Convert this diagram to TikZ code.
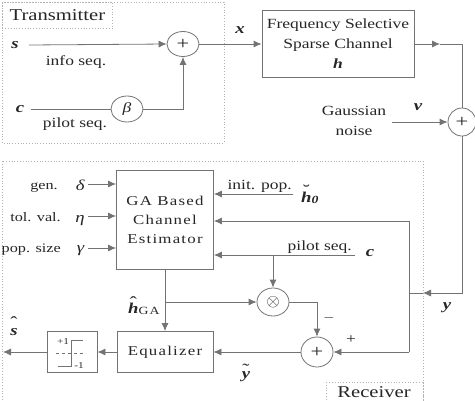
\documentclass[tikz,border=0pt]{standalone}
\usepackage{amsmath}
\usepackage{fontspec}
\setmainfont{Liberation Serif}[FakeStretch=1.25]
\newfontfamily\spacedfont{Liberation Serif}[FakeStretch=1.25,LetterSpace=9]
\usetikzlibrary{positioning,calc,shapes.geometric,arrows.meta}
\newcommand{\bv}[1]{\textbf{\textit{#1}}}
% letter with an accent set above it
\newcommand{\accbv}[3]{\leavevmode\vbox{\offinterlineskip\halign{\hfil##\hfil\cr
  \fontsize{17}{17}\selectfont #1\cr\noalign{\kern#3}\bv{#2}\cr}}}
\tikzset{
  wire/.style={draw=black!55,line width=0.8pt},
  arr/.style={wire,-{Latex[length=8pt,width=7pt]}},
  blockbox/.style={draw=black!55,line width=0.8pt,inner sep=0pt},
  sumnode/.style={ellipse,draw=black!55,line width=0.8pt,inner sep=0pt,font=\fontsize{18}{18}\selectfont},
  areabox/.style={draw=black!30,dotted,line width=0.8pt},
  lbl/.style={inner sep=0pt,font=\fontsize{14}{20}\selectfont},
  smalllbl/.style={inner sep=0pt,font=\fontsize{13}{14}\selectfont},
  sym/.style={inner sep=0pt,font=\fontsize{15}{17}\selectfont},
  every node/.style={text=black!85},
}
\begin{document}
\begin{tikzpicture}[x=1pt,y=-1pt]
  \useasboundingbox (0,0) rectangle (475,400);
  \clip (0,0) rectangle (475,400);
  % transmitter
  \draw[areabox] (2,2) rectangle (224,143);
  \node[areabox,anchor=north west,minimum width=110pt,minimum height=26pt,inner sep=0pt,font=\fontsize{16.5}{18}\selectfont] (txlabel) at (2,2) {Transmitter};
  \node[sym] (s) at (15,45) {\bv{s}};
  \node[sumnode,minimum width=32pt,minimum height=25pt] (sumtx) at (183,44) {+};
  \node[lbl] (info) at (76,62) {info seq.};
  \node[sym] (ctx) at (20,109) {\bv{c}};
  \node[sumnode,minimum width=32pt,minimum height=26pt,font=\fontsize{14}{14}\selectfont] (beta) at (127,109) {\textit{β}};
  \node[lbl] (pilottx) at (75,124) {pilot seq.};
  \draw[arr] ([xshift=10pt]s.east) -- (sumtx.west);
  \draw[wire] ([xshift=7pt]ctx.east) -- (beta.west);
  \draw[arr] (beta.east) -| (sumtx.south);
  % channel and noise
  \node[sym] (xl) at (240,30) {\bv{x}};
  \node[blockbox,minimum width=152pt,minimum height=67pt,align=center,font=\fontsize{14}{20}\selectfont] (chan) at (338,44) {Frequency Selective\\Sparse Channel\\\bv{h}};
  \draw[arr] (sumtx.east) -- (chan.west);
  \node[sumnode,minimum width=28pt,minimum height=28pt] (sumrx) at (462,122) {+};
  \coordinate (chout) at (440,44);
  \draw[arr] (chan.east) -- (chout);
  \draw[wire] (chout) -| (sumrx.north);
  \node[lbl,align=center] (noise) at (354,121) {Gaussian\\noise};
  \node[sym] (v) at (418,107) {\bv{v}};
  \coordinate (vin) at (392,122);
  \draw[arr] (vin) -- (sumrx.west);
  % receiver
  \draw[areabox] (2,161) rectangle (423,420);
  \draw[areabox] (326,382) rectangle (423,420);
  \node[inner sep=0pt,font=\fontsize{16.5}{18}\selectfont] (rxlabel) at (374,392) {Receiver};
  \node[blockbox,minimum width=97pt,minimum height=99pt,align=center,font=\spacedfont\fontsize{13.5}{19}\selectfont] (est) at (165,219.5) {GA Based\\Channel\\Estimator};
  \node[sym,anchor=base east] (delta) at (85,190) {\textit{δ}};
  \node[sym,anchor=base east] (eta) at (85,222) {\textit{η}};
  \node[sym,anchor=base east] (gamma) at (85,252) {\textit{γ}};
  \node[smalllbl,anchor=base east] (gen) at (58,189) {gen.};
  \node[smalllbl,anchor=base east] (tolval) at (61,221) {tol. val.};
  \node[smalllbl,anchor=base east] (popsize) at (61,252) {pop. size};
  \coordinate (in1) at (88,184);
  \coordinate (in2) at (88,216);
  \coordinate (in3) at (88,248);
  \draw[arr] (in1) -- (in1 -| est.west);
  \draw[arr] (in2) -- (in2 -| est.west);
  \draw[arr] (in3) -- (in3 -| est.west);
  \coordinate (ip) at (293,194);
  \draw[arr] (ip) -- (ip -| est.east);
  \node[lbl,anchor=base east] (initpop) at (292,189) {init. pop.};
  \node[sym,anchor=base west] (h0) at (301,202) {\accbv{˘}{h}{-4.5pt}\raisebox{-0.2ex}{\fontsize{11}{12}\selectfont\bv{0}}};
  \coordinate (pc) at (355,255);
  \draw[arr] (pc) -- (pc -| est.east);
  \node[lbl,anchor=base east] (pilotrx) at (352,250) {pilot seq.};
  \node[sym] (crx) at (370,253) {\bv{c}};
  % received signal
  \coordinate (ymid) at (423,293);
  \coordinate (jy) at (409,293);
  \coordinate (jt) at (409,221);
  \coordinate (jb) at (409,352);
  \draw[arr] (sumrx.south) |- (ymid);
  \draw[wire] (ymid) -- (jy);
  \draw[wire] (jt) -- (jb);
  \draw[arr] (jt) -- (jt -| est.east);
  \node[sym] (yl) at (447,308) {\bv{y}};
  % error branch
  \node[sumnode,minimum width=32pt,minimum height=28pt] (mult) at (273,302) {$\otimes$};
  \node[sumnode,minimum width=32pt,minimum height=30pt] (sum3) at (317,352) {+};
  \node[blockbox,minimum width=96pt,minimum height=41pt,font=\spacedfont\fontsize{13.5}{15}\selectfont] (eq) at (165,352) {Equalizer};
  \node[blockbox,minimum width=50pt,minimum height=41pt] (slicer) at (72,352) {};
  \draw[arr] (mult.north |- pc) -- (mult.north);
  \draw[arr] (est.south) -- (eq.north);
  \coordinate (hb) at (est.south |- mult.west);
  \draw[arr] (hb) -- (mult.west);
  \draw[arr] (mult.east) -| (sum3.north);
  \draw[arr] (jb) -- (sum3.east);
  \draw[arr] (sum3.west) -- (eq.east);
  \draw[arr] (eq.west) -- (slicer.east);
  \coordinate (sout) at (3,352);
  \draw[arr] (slicer.west) -- (sout);
  \node[lbl] (minus) at (329,318) {$-$};
  \node[lbl] (plus) at (351,340) {+};
  \node[sym,anchor=base west] (hga) at (128,313) {\accbv{ˆ}{h}{-5.5pt}\raisebox{-0.2ex}{\fontsize{11}{12}\selectfont\spacedfont GA}};
  \node[sym,anchor=base] (ytil) at (246,378) {\accbv{˜}{y}{-4pt}};
  \node[sym,anchor=base] (shat) at (14,335) {\accbv{ˆ}{s}{-1pt}};
  % hard decision
  \begin{scope}[shift={(slicer.center)}]
    \draw[wire,line width=0.6pt] (-14,14) -- (-1,14) -- (-1,-12) -- (11,-12);
    \draw[wire,dashed,line width=0.5pt] (-16,1) -- (11,1);
    \node[inner sep=0pt,font=\fontsize{9}{10}\selectfont] (pone) at (-9,-10) {+1};
    \node[inner sep=0pt,font=\fontsize{9}{10}\selectfont] (mone) at (7,14) {-1};
  \end{scope}
\end{tikzpicture}
\end{document}
